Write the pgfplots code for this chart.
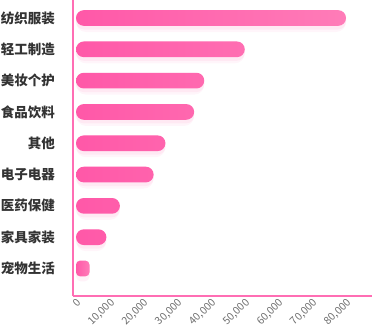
\documentclass[border=0pt]{standalone}
\usepackage{fontspec}
\setmainfont{Noto Sans CJK SC}
\newfontfamily\cjk{Noto Sans CJK SC}
\usepackage{pgfplots}
\pgfplotsset{compat=1.18}
\definecolor{barL}{HTML}{FF58A8}
\definecolor{barR}{HTML}{FF7CB8}
\definecolor{axpink}{HTML}{FF6EB4}
\definecolor{lbl}{HTML}{333333}
\definecolor{tck}{HTML}{6E6E6E}
\begin{document}
\begin{tikzpicture}
\begin{axis}[
  name=ax,
  scale only axis,
  width=299pt, height=296pt,
  xmin=-890, xmax=87700,
  ymin=-0.879, ymax=8.575,
  axis x line*=bottom, axis y line*=left,
  axis line style={draw=axpink, line width=2pt, -},
  major tick length=0pt,
  xtick={0,10000,20000,30000,40000,50000,60000,70000,80000},
  scaled x ticks=false,
  /pgf/number format/.cd, 1000 sep={,}, assume math mode=true, /pgfplots/.cd,
  xticklabel style={font=\fontsize{10.5}{11}\selectfont, text=tck, rotate=45, anchor=north east, inner sep=1pt},
  ytick={0,1,2,3,4,5,6,7,8},
  yticklabels={宠物生活,家具家装,医药保健,电子电器,其他,食品饮料,美妆个护,轻工制造,纺织服装},
  yticklabel style={font=\cjk\bfseries\fontsize{13.5}{14}\selectfont, text=lbl, inner sep=0pt, xshift=-18pt},
  clip=false,
]
% soft shadows
\addplot[xbar, bar width=22pt, bar shift=-3pt, draw=none, fill=barL, fill opacity=0.06, rounded corners=10pt]
  coordinates {(80000,8) (50000,7) (38000,6) (35000,5) (26500,4) (23000,3) (13000,2) (9000,1)};
\addplot[xbar, bar width=18pt, bar shift=-2.5pt, draw=none, fill=barL, fill opacity=0.08, rounded corners=8pt]
  coordinates {(80000,8) (50000,7) (38000,6) (35000,5) (26500,4) (23000,3) (13000,2) (9000,1)};
\addplot[xbar, bar width=20pt, bar shift=-3pt, draw=none, fill=barL, fill opacity=0.08, rounded corners=5pt]
  coordinates {(4000,0)};
% bars
\addplot[xbar, bar width=15.7pt, bar shift=0pt, draw=none, left color=barL, right color=barR, rounded corners=7.8pt]
  coordinates {(80000,8) (50000,7) (38000,6) (35000,5) (26500,4) (23000,3) (13000,2) (9000,1)};
\addplot[xbar, bar width=15.7pt, bar shift=0pt, draw=none, left color=barL, right color=barR, rounded corners=4pt]
  coordinates {(4000,0)};
\end{axis}
\pgfresetboundingbox
\path ([xshift=-73pt,yshift=-39pt]ax.south west) rectangle (ax.north east);
\end{tikzpicture}
\end{document}
